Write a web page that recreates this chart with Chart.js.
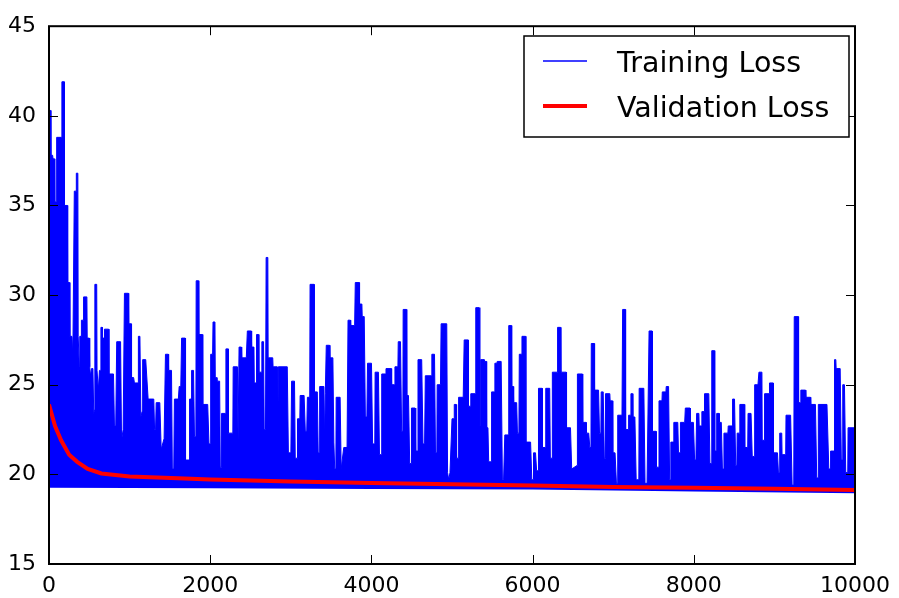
<!DOCTYPE html>
<html>
<head>
<meta charset="utf-8">
<script src="https://cdn.jsdelivr.net/npm/chart.js@4"></script>
<style>
  html, body { margin: 0; padding: 0; background: #fff; }
  #wrap { width: 899px; height: 598px; position: relative; }
</style>
</head>
<body>
<div id="wrap"><canvas id="myChart"></canvas></div>
<script>
// ticks
const xTicks = [0, 2000, 4000, 6000, 8000, 10000];
const yTicks = [15, 20, 25, 30, 35, 40, 45];

// training loss, upper edge of the noisy band: [iteration, loss]
const trainLoss = [
  [0,40.3],[20,40.3],[24,37.8],[45,37.8],[50,37.6],[68,37.6],[72,35.2],[90,35.2],[95,38.8],[155,38.8],
  [160,41.9],[188,41.9],[192,35.0],[228,35.0],[232,30.7],[255,30.7],[259,27.7],[285,27.7],[290,26.7],[298,27.7],
  [310,27.7],[314,35.8],[335,35.8],[339,36.8],[358,36.8],[362,27.7],[372,27.7],[376,26.0],[382,27.7],[398,27.7],
  [402,28.6],[425,28.6],[429,29.9],[470,29.9],[474,27.6],[500,27.6],[505,26.0],[515,25.5],[528,25.9],[545,25.9],
  [555,23.4],[565,23.6],[569,30.6],[592,30.6],[596,25.8],[606,25.8],[612,24.7],[626,25.8],[640,25.8],[644,28.2],
  [660,28.2],[664,27.6],[684,27.6],[688,28.1],[740,28.1],[744,25.6],[800,25.6],[812,22.7],[828,22.7],[840,27.4],
  [888,27.4],[900,21.9],[920,22.5],[936,30.1],[985,30.1],[989,28.4],[1020,28.4],[1024,25.4],[1050,25.4],[1060,25.1],
  [1105,25.1],[1109,27.7],[1128,27.7],[1140,23.2],[1155,23.5],[1162,26.4],[1200,26.4],[1230,24.2],[1300,24.2],[1310,22.5],
  [1322,22.5],[1330,24.0],[1375,24.0],[1392,21.4],[1428,22.0],[1445,26.7],[1480,26.7],[1484,25.8],[1520,25.8],[1530,20.3],
  [1548,20.3],[1556,24.2],[1605,24.2],[1615,24.9],[1635,24.9],
  [1645,27.6],[1690,27.6],[1694,20.2],[1700,20.8],[1740,20.8],[1744,24.2],[1765,24.2],[1769,25.8],[1793,25.8],[1805,22.1],
  [1822,22.1],[1826,30.8],[1855,30.8],[1859,27.8],[1904,27.8],[1908,23.9],[1969,23.9],[1985,21.7],[1998,21.7],[2006,26.7],
  [2030,26.7],[2035,28.5],[2059,28.5],[2063,25.4],[2080,25.4],[2084,25.2],[2117,25.2],[2125,20.4],[2137,20.4],[2141,23.4],
  [2190,23.4],[2195,27.0],[2223,27.0],[2227,22.3],[2281,22.3],[2285,26.0],[2338,26.0],[2346,21.9],[2354,21.9],[2358,27.1],
  [2387,27.1],[2391,26.5],[2448,26.5],[2461,28.0],[2510,28.0],[2514,27.1],[2543,27.1],[2547,25.1],[2571,25.1],[2575,27.8],
  [2600,27.8],[2604,25.7],[2633,25.7],[2641,27.4],[2662,27.4],[2670,22.5],[2686,22.5],[2694,32.1],[2715,32.1],[2719,26.5],
  [2776,26.5],[2780,26.0],[2830,26.0],[2838,22.5],[2846,26.0],[2956,26.0],[2970,21.2],[3001,21.2],[3010,25.2],[3046,25.2],
  [3055,20.9],[3079,20.9],[3083,23.1],[3112,23.1],[3116,24.4],[3165,24.4],[3180,22.4],[3198,22.4],[3206,24.3],[3235,24.3],
  [3239,30.6],[3288,30.6],
  [3292,24.6],[3329,24.6],[3340,21.2],[3354,21.2],[3358,24.9],[3411,24.9],[3420,21.8],[3428,24.5],[3436,24.5],[3440,27.2],
  [3481,27.2],[3485,26.5],[3522,26.5],[3534,21.8],[3545,20.3],[3559,20.3],[3563,24.3],[3612,24.3],[3625,20.3],[3657,21.5],
  [3698,21.5],[3710,28.6],[3739,28.6],[3743,28.3],[3792,28.3],[3800,30.7],[3849,30.7],[3853,29.5],[3882,29.5],[3886,28.8],
  [3911,28.8],[3925,23.2],[3944,23.2],[3952,26.2],[4001,26.2],[4015,21.7],[4042,21.7],[4046,25.7],[4087,25.7],[4100,21.1],
  [4124,21.1],[4128,25.6],[4177,25.6],[4181,25.9],[4247,25.9],[4251,25.0],[4288,25.0],[4292,26.0],[4329,26.0],[4333,27.4],
  [4361,27.4],[4375,22.4],[4390,22.4],[4394,29.2],[4435,29.2],[4439,24.4],[4460,24.4],[4475,20.6],[4493,20.6],[4497,23.7],
  [4542,23.7],[4550,21.3],[4574,21.3],[4578,26.4],[4624,26.4],[4640,21.7],[4660,21.7],[4669,25.5],[4742,25.5],[4750,26.7],
  [4783,26.7],[4795,21.2],[4812,21.2],[4816,25.0],[4857,25.0],[4865,28.4],[4935,28.4],[4945,20.1],[4960,19.7],[4975,20.1],
  [5000,23.1],[5025,23.1],[5028,23.9],[5050,23.9],[5057,20.9],[5078,20.9],[5082,24.3],[5139,24.3],[5151,27.5],[5200,27.5],
  [5204,23.8],[5229,23.8],[5233,24.5],[5291,24.5],[5295,29.3],[5336,29.3],[5345,22.7],[5352,22.7],[5356,26.4],[5397,26.4],
  [5401,26.3],[5426,26.3],[5430,22.6],[5446,22.6],[5455,20.7],[5487,20.7],[5491,24.6],[5528,24.6],[5532,26.2],[5557,26.2],
  [5561,26.3],[5610,26.3],[5625,19.7],[5640,19.7],[5655,22.2],[5700,22.2],[5704,28.3],[5737,28.3],[5741,24.9],[5761,24.9],
  [5765,24.0],[5802,24.0],[5812,22.3],[5830,22.3],[5835,26.7],[5864,26.7],[5868,27.7],[5913,27.7],[5917,21.8],[5975,21.8],
  [5990,19.7],[6007,19.7],[6011,21.2],[6036,21.2],[6050,20.2],[6069,20.2],[6073,24.8],[6118,24.8],[6122,21.5],[6159,21.5],
  [6163,24.8],[6212,24.8],[6220,20.9],[6241,20.9],[6245,25.7],[6306,25.7],[6310,28.2],[6347,28.2],[6351,25.7],[6417,25.7],
  [6421,22.6],[6470,22.6],[6485,20.3],[6552,20.5],[6556,25.6],[6600,25.6],
  [6618,25.6],[6622,22.9],[6663,22.9],[6667,22.3],[6696,22.3],[6710,21.5],[6724,21.5],[6728,27.3],[6765,27.3],[6769,24.7],
  [6818,24.7],[6830,22.3],[6847,22.3],[6851,24.6],[6876,24.6],[6890,20.9],[6900,20.9],[6904,24.5],[6958,24.5],[6962,24.1],
  [6991,24.1],[6995,21.2],[7023,21.2],[7040,19.5],[7052,19.5],[7056,23.3],[7109,23.3],[7117,29.2],[7150,29.2],[7154,22.5],
  [7187,22.5],[7191,23.3],[7216,23.3],[7220,24.5],[7240,24.5],[7244,23.2],[7269,23.2],[7285,19.7],[7318,19.7],[7322,24.8],
  [7380,24.8],[7395,19.5],[7420,19.5],[7445,28.0],[7482,28.0],[7486,22.4],[7531,22.4],[7535,20.4],[7564,20.4],[7568,24.1],
  [7605,24.1],[7609,24.6],[7654,24.6],[7658,24.9],[7687,24.9],[7700,19.7],[7711,19.7],[7715,21.8],[7748,21.8],[7752,22.9],
  [7801,22.9],[7810,21.2],[7830,21.2],[7834,22.9],[7887,22.9],[7895,23.7],[7953,23.7],[7957,22.9],[7995,22.9],[8010,20.8],
  [8026,20.8],[8035,23.4],[8063,23.4],[8067,22.7],[8096,22.7],[8100,23.5],[8129,23.5],[8133,24.5],[8186,24.5],[8200,20.6],
  [8219,20.6],[8223,26.9],[8256,26.9],
  [8260,21.3],[8280,21.3],[8284,23.4],[8313,23.4],[8317,22.9],[8341,22.9],[8355,20.3],[8370,20.3],[8374,22.3],[8423,22.3],
  [8427,22.7],[8477,22.7],[8481,24.2],[8505,24.2],[8520,20.5],[8534,20.5],[8538,22.3],[8567,22.3],[8571,23.9],[8628,23.9],
  [8632,21.5],[8669,21.5],[8673,23.4],[8710,23.4],[8725,21.0],[8751,21.0],[8755,25.0],[8796,25.0],[8808,25.7],[8845,25.7],
  [8849,21.9],[8874,21.9],[8878,24.5],[8935,24.5],[8939,25.1],[8984,25.1],[8988,21.2],[9038,21.2],[9050,20.1],[9062,20.1],
  [9066,22.3],[9091,22.3],[9095,21.1],[9140,21.1],[9144,23.3],[9201,23.3],[9220,19.4],[9240,19.4],[9246,28.8],[9296,28.8],
  [9300,24.0],[9324,24.0],[9328,24.7],[9386,24.7],[9390,24.3],[9447,24.3],[9451,23.9],[9509,23.9],[9525,19.8],[9541,19.8],
  [9545,23.9],[9652,23.9],[9675,20.3],[9693,20.3],[9697,21.3],[9740,21.3],[9746,26.4],[9762,26.4],[9766,25.9],[9816,25.9],
  [9830,20.8],[9844,20.8],[9848,25.0],[9869,25.0],[9885,20.1],[9910,20.1],[9914,22.6],[10000,22.6]
];

// lower edge of the training band
const trainFloor = [[0,19.25],[2000,19.22],[4000,19.18],[6000,19.15],[8000,19.05],[10000,18.95]];

// validation loss
const validLoss = [
  [0,23.9],[75,22.7],[150,21.9],[250,21.1],[350,20.7],[480,20.3],[650,20.05],[1000,19.88],[1600,19.78],
  [2000,19.72],[3000,19.6],[4000,19.52],[5000,19.45],[6000,19.38],[7000,19.3],[8000,19.25],[9000,19.2],[10000,19.13]
];

const toXY = arr => arr.map(p => ({x: p[0], y: p[1]}));

// cadre + petits ticks vers l'intérieur (style matplotlib)
const framePlugin = {
  id: 'frame',
  afterDatasetsDraw(chart) {
    const {ctx, chartArea: a, scales} = chart;
    ctx.save();
    ctx.strokeStyle = '#000';
    ctx.lineWidth = 1;
    xTicks.forEach(v => {
      const x = Math.round(scales.x.getPixelForValue(v)) + 0.5;
      ctx.beginPath();
      ctx.moveTo(x, a.bottom); ctx.lineTo(x, a.bottom - 9);
      ctx.moveTo(x, a.top); ctx.lineTo(x, a.top + 9);
      ctx.stroke();
    });
    yTicks.forEach(v => {
      const y = Math.round(scales.y.getPixelForValue(v)) + 0.5;
      ctx.beginPath();
      ctx.moveTo(a.left, y); ctx.lineTo(a.left + 9, y);
      ctx.moveTo(a.right, y); ctx.lineTo(a.right - 9, y);
      ctx.stroke();
    });
    ctx.lineWidth = 2;
    ctx.strokeRect(a.left, a.top, a.right - a.left, a.bottom - a.top);
    ctx.restore();
  }
};

// légende encadrée en haut à droite
const legendPlugin = {
  id: 'boxLegend',
  afterDraw(chart) {
    const {ctx} = chart;
    const items = chart.data.datasets.filter(d => d.inLegend);
    ctx.save();
    ctx.fillStyle = '#fff';
    ctx.fillRect(524, 36, 325, 101);
    ctx.strokeStyle = '#000';
    ctx.lineWidth = 1.5;
    ctx.strokeRect(524, 36, 325, 101);
    items.forEach((d, i) => {
      const y = 61 + i * 45;
      ctx.strokeStyle = d.borderColor;
      ctx.lineWidth = d.legendWidth;
      ctx.beginPath();
      ctx.moveTo(543, y); ctx.lineTo(587, y);
      ctx.stroke();
      ctx.fillStyle = '#000';
      ctx.font = '28.5px "DejaVu Sans"';
      ctx.textBaseline = 'alphabetic';
      ctx.fillText(d.label, 617, y + 11);
    });
    ctx.restore();
  }
};

new Chart(
  document.getElementById('myChart'),
  {
    type: 'line',
    data: {
      datasets: [
        {
          label: 'Training Loss',
          data: toXY(trainLoss),
          borderColor: '#0000ff',
          backgroundColor: '#0000ff',
          borderWidth: 1,
          pointRadius: 0,
          fill: 2,
          order: 1,
          inLegend: true,
          legendWidth: 1.5
        },
        {
          label: 'Validation Loss',
          data: toXY(validLoss),
          borderColor: '#ff0000',
          borderWidth: 4,
          pointRadius: 0,
          fill: false,
          order: 0,
          inLegend: true,
          legendWidth: 4
        },
        {
          label: 'floor',
          data: toXY(trainFloor),
          borderColor: 'rgba(0,0,0,0)',
          borderWidth: 1,
          pointRadius: 0,
          fill: false,
          order: 2
        }
      ]
    },
    options: {
      responsive: true,
      maintainAspectRatio: false,
      animation: false,
      layout: { padding: { top: 22, right: 36, left: 0, bottom: 0 } },
      scales: {
        x: {
          type: 'linear',
          min: 0,
          max: 10000,
          afterBuildTicks: s => { s.ticks = xTicks.map(v => ({value: v})); },
          afterFit: s => { s.height = 34; },
          grid: { display: false, drawTicks: false },
          border: { display: false },
          ticks: {
            color: '#000',
            padding: 9,
            maxRotation: 0,
            callback: v => String(v),
            font: { family: 'DejaVu Sans', size: 22 }
          }
        },
        y: {
          min: 15,
          max: 45,
          afterBuildTicks: s => { s.ticks = yTicks.map(v => ({value: v})); },
          afterFit: s => { s.width = 49; },
          grid: { display: false, drawTicks: false },
          border: { display: false },
          ticks: {
            color: '#000',
            padding: 13,
            callback: v => String(v),
            font: { family: 'DejaVu Sans', size: 22 }
          }
        }
      },
      plugins: {
        legend: { display: false },
        tooltip: { enabled: false }
      }
    },
    plugins: [framePlugin, legendPlugin]
  }
);
</script>
</body>
</html>
